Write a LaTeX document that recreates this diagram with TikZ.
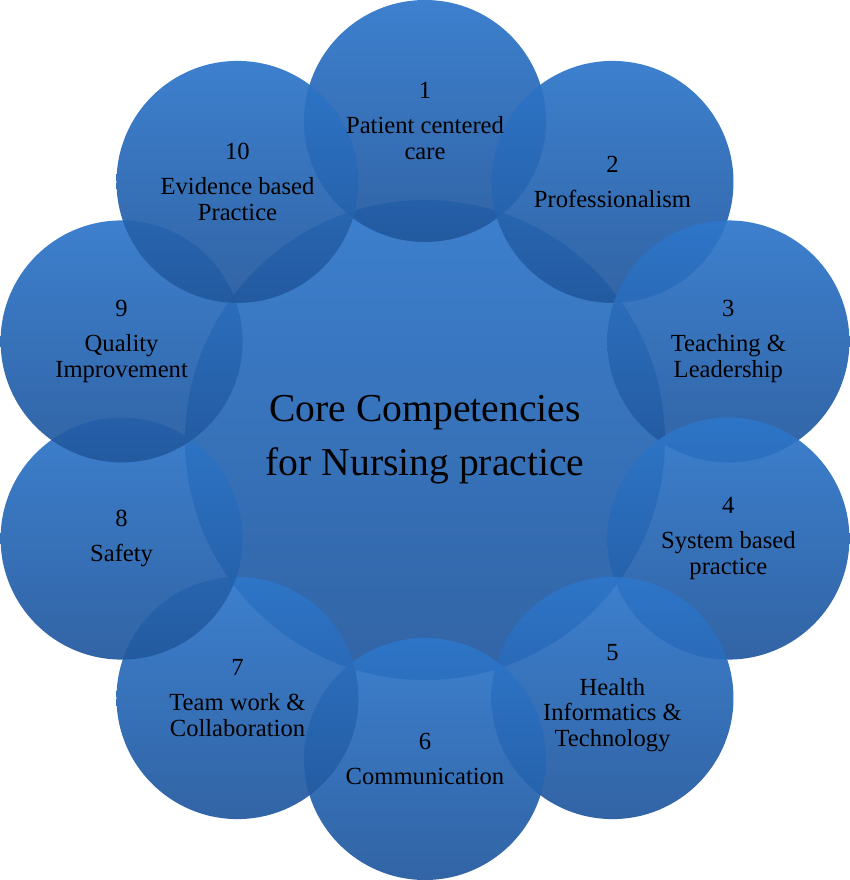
\documentclass[tikz,border=0pt]{standalone}
\usepackage{fontspec}
\setmainfont{Liberation Serif}
\usepackage{tikz}
\usetikzlibrary{calc}

\definecolor{balltop}{RGB}{46,118,202}
\definecolor{ballbot}{RGB}{34,88,158}

\tikzset{
  ball/.style={circle,inner sep=0pt,minimum size=#1,draw=none,
    top color=balltop,bottom color=ballbot,fill opacity=0.93},
  lab/.style={align=center,text=black,font=\fontsize{12.3}{12.8}\selectfont}
}

\begin{document}
\begin{tikzpicture}[x=0.5pt,y=0.5pt]
     \useasboundingbox (-425,-440) rectangle (425,440);
     %中心圆
     \node[ball=240pt] (core) at (0,0) {};
     \foreach \i in {1,...,10}  {
     	\node[ball=121pt] (c\i) at ({126-36*\i}:319) {};
     }
     \node[align=center,font=\fontsize{19.8}{27}\selectfont] (title) at (core)
     	{Core Competencies\\for Nursing practice};
     
     \foreach \i/\txt in {1/{Patient centered\\care},2/{Professionalism},
     	3/{Teaching \&\\Leadership},4/{System based\\practice},
     	5/{Health\\Informatics \&\\Technology},6/{Communication},
     	7/{Team work \&\\Collaboration},8/{Safety},
     	9/{Quality\\Improvement},10/{Evidence based\\Practice}}  {
     	\node[lab] (t\i) at (c\i) {\i\\[4.5pt]\txt};
     }
     
\end{tikzpicture}
\end{document}
